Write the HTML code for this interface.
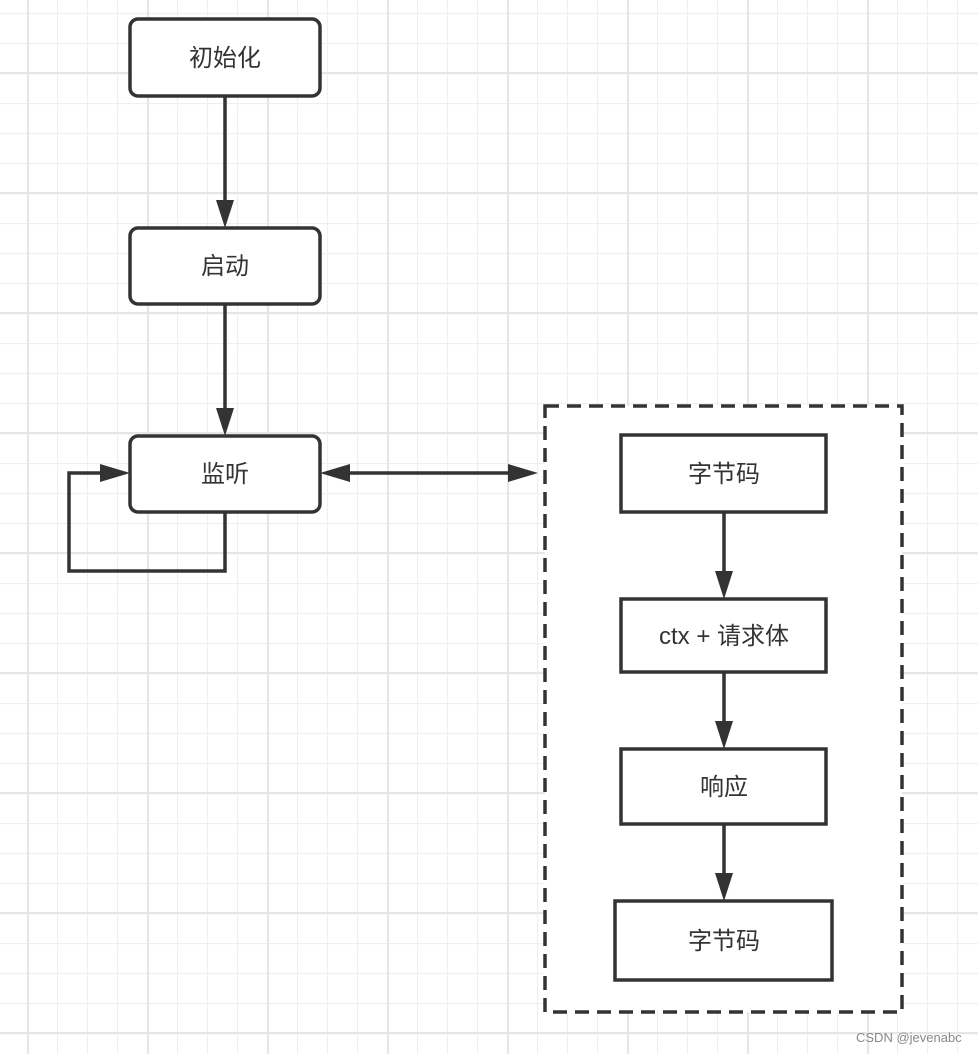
<!DOCTYPE html>
<html><head><meta charset="utf-8"><style>
html,body{margin:0;padding:0;background:#fff}
svg{display:block}
text{font-family:"Liberation Sans","Noto Sans CJK SC",sans-serif;fill:#333;font-size:24px}
</style></head><body>
<svg width="978" height="1054" viewBox="0 0 978 1054" xmlns="http://www.w3.org/2000/svg">
<defs>
<pattern id="minor" x="-3" y="13" width="30" height="30" patternUnits="userSpaceOnUse">
<path d="M0 0.5H30M0.5 0V30" stroke="#efefef" stroke-width="1.2" fill="none"/>
</pattern>
<pattern id="major" x="27" y="72" width="120" height="120" patternUnits="userSpaceOnUse">
<path d="M0 1H120M1 0V120" stroke="#e6e6e6" stroke-width="2.2" fill="none"/>
</pattern>
</defs>
<rect width="978" height="1054" fill="url(#minor)"/>
<rect width="978" height="1054" fill="url(#major)"/>
<g stroke="#333" stroke-width="3.5" fill="#fff">
<rect x="130" y="19" width="190" height="77" rx="8"/>
<rect x="130" y="228" width="190" height="76" rx="8"/>
<rect x="130" y="436" width="190" height="76" rx="8"/>
<rect x="545" y="406" width="357" height="606" stroke-dasharray="14,8"/>
<rect x="621" y="435" width="205" height="77"/>
<rect x="621" y="599" width="205" height="73"/>
<rect x="621" y="749" width="205" height="75"/>
<rect x="615" y="901" width="217" height="79"/>
</g>
<g stroke="#333" stroke-width="3.5" fill="none">
<path d="M225 96V205M225 304V413M225 512V571H69V473H105M345 473H512M724 512V576M724 672V726M724 824V878"/>
</g>
<g fill="#333">
<path d="M216 200L225 228L234 200Z"/>
<path d="M216 408L225 436L234 408Z"/>
<path d="M100 464L130 473L100 482Z"/>
<path d="M350 464L320 473L350 482Z"/>
<path d="M508 464L538 473L508 482Z"/>
<path d="M715 571L724 599L733 571Z"/>
<path d="M715 721L724 749L733 721Z"/>
<path d="M715 873L724 901L733 873Z"/>
</g>
<g text-anchor="middle">
<text x="225" y="66">初始化</text>
<text x="225" y="274">启动</text>
<text x="225" y="482">监听</text>
<text x="724" y="482">字节码</text>
<text x="724" y="644">ctx + 请求体</text>
<text x="724" y="795">响应</text>
<text x="724" y="949">字节码</text>
</g>
<text x="856" y="1042" style="font-size:13px;fill:#888">CSDN @jevenabc</text>
</svg>
</body></html>
